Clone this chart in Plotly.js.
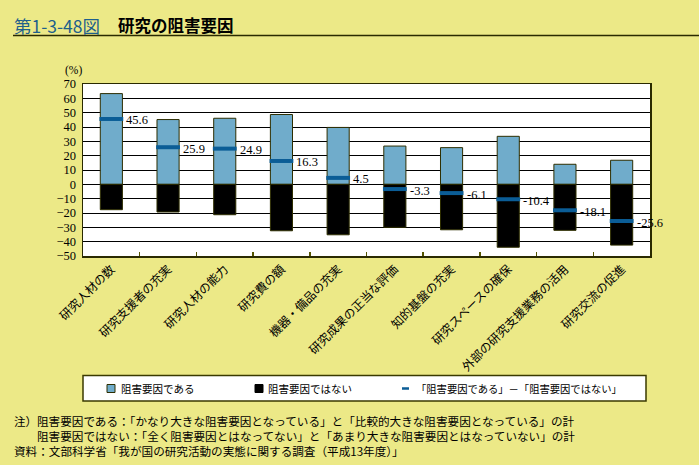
<!DOCTYPE html>
<html>
<head>
<meta charset="utf-8">
<script src="https://cdn.plot.ly/plotly-3.0.1.min.js"></script>
<style>
html,body{margin:0;padding:0;background:#ECE987;}
#chart{width:699px;height:465px;}
</style>
</head>
<body>
<div id="chart"></div>
<script>
// ---- data ----
var categories = ['研究人材の数','研究支援者の充実','研究人材の能力','研究費の額','機器・備品の充実','研究成果の正当な評価','知的基盤の充実','研究スペースの確保','外部の研究支援業務の活用','研究交流の促進'];
var isFactor = [63.3, 45.2, 46.1, 48.7, 39.7, 26.7, 25.6, 33.5, 14.0, 16.8];
var notFactor = [-17.7, -19.3, -21.2, -32.4, -35.2, -30.0, -31.7, -43.9, -32.1, -42.4];
var netValues = [45.6, 25.9, 24.9, 16.3, 4.5, -3.3, -6.1, -10.4, -18.1, -25.6];
var netLabels = ['45.6','25.9','24.9','16.3','4.5','-3.3','-6.1','-10.4','-18.1','-25.6'];
var legendNames = ['阻害要因である','阻害要因ではない','「阻害要因である」－「阻害要因ではない」'];
var notes = ['注）','阻害要因である：「かなり大きな阻害要因となっている」と「比較的大きな阻害要因となっている」の計','阻害要因ではない：「全く阻害要因とはなってない」と「あまり大きな阻害要因とはなっていない」の計','資料：文部科学省「我が国の研究活動の実態に関する調査（平成13年度）」'];

// ---- layout helpers (pixel -> paper) ----
var W = 699, H = 465, mL = 83, mR = 49, mT = 84, mB = 209;
var pw = W - mL - mR, ph = H - mT - mB;
function PX(x){ return (x - mL) / pw; }
function PY(y){ return (H - mB - y) / ph; }

var JP = '"Noto Sans CJK JP", sans-serif';
var SERIF = '"Liberation Serif", "DejaVu Serif", serif';
var lightBlue = '#70ACCB', darkBlue = '#0B5D96', edge = '#2E2E00';

var traces = [
  {type:'bar', x:categories, y:isFactor, name:legendNames[0], width:0.39,
   marker:{color:lightBlue, line:{color:edge, width:1}}, showlegend:false, hoverinfo:'skip'},
  {type:'bar', x:categories, y:notFactor, name:legendNames[1], width:0.39,
   marker:{color:'#000000', line:{color:edge, width:1}}, showlegend:false, hoverinfo:'skip'},
  {type:'scatter', mode:'markers', x:categories, y:netValues, name:legendNames[2], cliponaxis:false,
   marker:{symbol:'line-ew', size:17, line:{color:darkBlue, width:4}, color:darkBlue},
   showlegend:false, hoverinfo:'skip'}
];

var shapes = [
  // title rule
  {type:'line', xref:'paper', yref:'paper', x0:PX(13), x1:PX(699), y0:PY(35.5), y1:PY(35.5), line:{color:'#2A2A00', width:1.5}},
  // legend box
  {type:'rect', xref:'paper', yref:'paper', x0:PX(83), x1:PX(646), y0:PY(375.5), y1:PY(401), fillcolor:'#FFFFFF', line:{color:'#3A3A00', width:1.5}},
  {type:'rect', xref:'paper', yref:'paper', x0:PX(107), x1:PX(115), y0:PY(384.5), y1:PY(392.5), fillcolor:lightBlue, line:{color:edge, width:1}},
  {type:'rect', xref:'paper', yref:'paper', x0:PX(255), x1:PX(263), y0:PY(384.5), y1:PY(392.5), fillcolor:'#000', line:{color:'#000', width:1}},
  {type:'line', xref:'paper', yref:'paper', x0:PX(402), x1:PX(409), y0:PY(388.5), y1:PY(388.5), line:{color:darkBlue, width:2.5}}
];

var annotations = [
  {xref:'paper', yref:'paper', x:PX(12), y:PY(25), xanchor:'left', yanchor:'middle', showarrow:false,
   text:'第1-3-48図', font:{family:JP, size:17.5, color:'#1E5F8C'}},
  {xref:'paper', yref:'paper', x:PX(116), y:PY(25), xanchor:'left', yanchor:'middle', showarrow:false,
   text:'<b>研究の阻害要因</b>', font:{family:JP, size:16.5, color:'#000'}},
  {xref:'paper', yref:'paper', x:PX(73), y:PY(70.5), xanchor:'center', yanchor:'middle', showarrow:false, borderpad:0,
   text:'(%)', font:{family:SERIF, size:11.5, color:'#000'}},
  {xref:'paper', yref:'paper', x:PX(119), y:PY(388.5), xanchor:'left', yanchor:'middle', showarrow:false,
   text:legendNames[0], font:{family:JP, size:10.5, color:'#000'}},
  {xref:'paper', yref:'paper', x:PX(266), y:PY(388.5), xanchor:'left', yanchor:'middle', showarrow:false,
   text:legendNames[1], font:{family:JP, size:10.5, color:'#000'}},
  {xref:'paper', yref:'paper', x:PX(414), y:PY(388.5), xanchor:'left', yanchor:'middle', showarrow:false,
   text:legendNames[2], font:{family:JP, size:10.3, color:'#000'}},
  {xref:'paper', yref:'paper', x:PX(13), y:PY(420.5), xanchor:'left', yanchor:'middle', showarrow:false, borderpad:0,
   text:notes[0], font:{family:JP, size:11.5, color:'#000'}},
  {xref:'paper', yref:'paper', x:PX(36), y:PY(420.5), xanchor:'left', yanchor:'middle', showarrow:false, borderpad:0,
   text:notes[1], font:{family:JP, size:11.6, color:'#000'}},
  {xref:'paper', yref:'paper', x:PX(36), y:PY(435.5), xanchor:'left', yanchor:'middle', showarrow:false, borderpad:0,
   text:notes[2], font:{family:JP, size:11.6, color:'#000'}},
  {xref:'paper', yref:'paper', x:PX(13), y:PY(450.5), xanchor:'left', yanchor:'middle', showarrow:false, borderpad:0,
   text:notes[3], font:{family:JP, size:11.6, color:'#000'}}
];

// net value labels, placed through the data axes
for (var i = 0; i < categories.length; i++) {
  annotations.push({xref:'x', yref:'y', x:categories[i], y:netValues[i], xanchor:'left', yanchor:'middle',
    xshift:14, yshift:-1.5, showarrow:false, borderpad:0, text:netLabels[i],
    font:{family:SERIF, size:12.5, color:'#000'}});
}

var layout = {
  width:W, height:H,
  margin:{l:mL, r:mR, t:mT, b:mB, pad:0},
  paper_bgcolor:'#ECE987', plot_bgcolor:'#FFFFFF',
  barmode:'relative',
  showlegend:false,
  xaxis:{type:'category', range:[-0.5, categories.length - 0.5], tickangle:-45,
         tickfont:{family:JP, size:12, color:'#000'},
         ticks:'inside', tickson:'boundaries', ticklen:4, tickcolor:'#555500', tickwidth:1.5,
         showgrid:false, showline:true, linecolor:'#2A2A00', linewidth:1.5, mirror:true,
         fixedrange:true, automargin:false},
  yaxis:{range:[-50,70], dtick:10, tick0:0, ticks:'', showgrid:true, gridcolor:'#000', gridwidth:1,
         zeroline:true, zerolinecolor:'#000', zerolinewidth:1,
         showline:true, linecolor:'#2A2A00', linewidth:1.5, mirror:true,
         tickfont:{family:SERIF, size:12.5, color:'#000'}, ticklabelstandoff:3,
         fixedrange:true, automargin:false},
  shapes:shapes,
  annotations:annotations,
  font:{family:JP}
};

Plotly.newPlot('chart', traces, layout, {staticPlot:true, displayModeBar:false});
</script>
</body>
</html>
